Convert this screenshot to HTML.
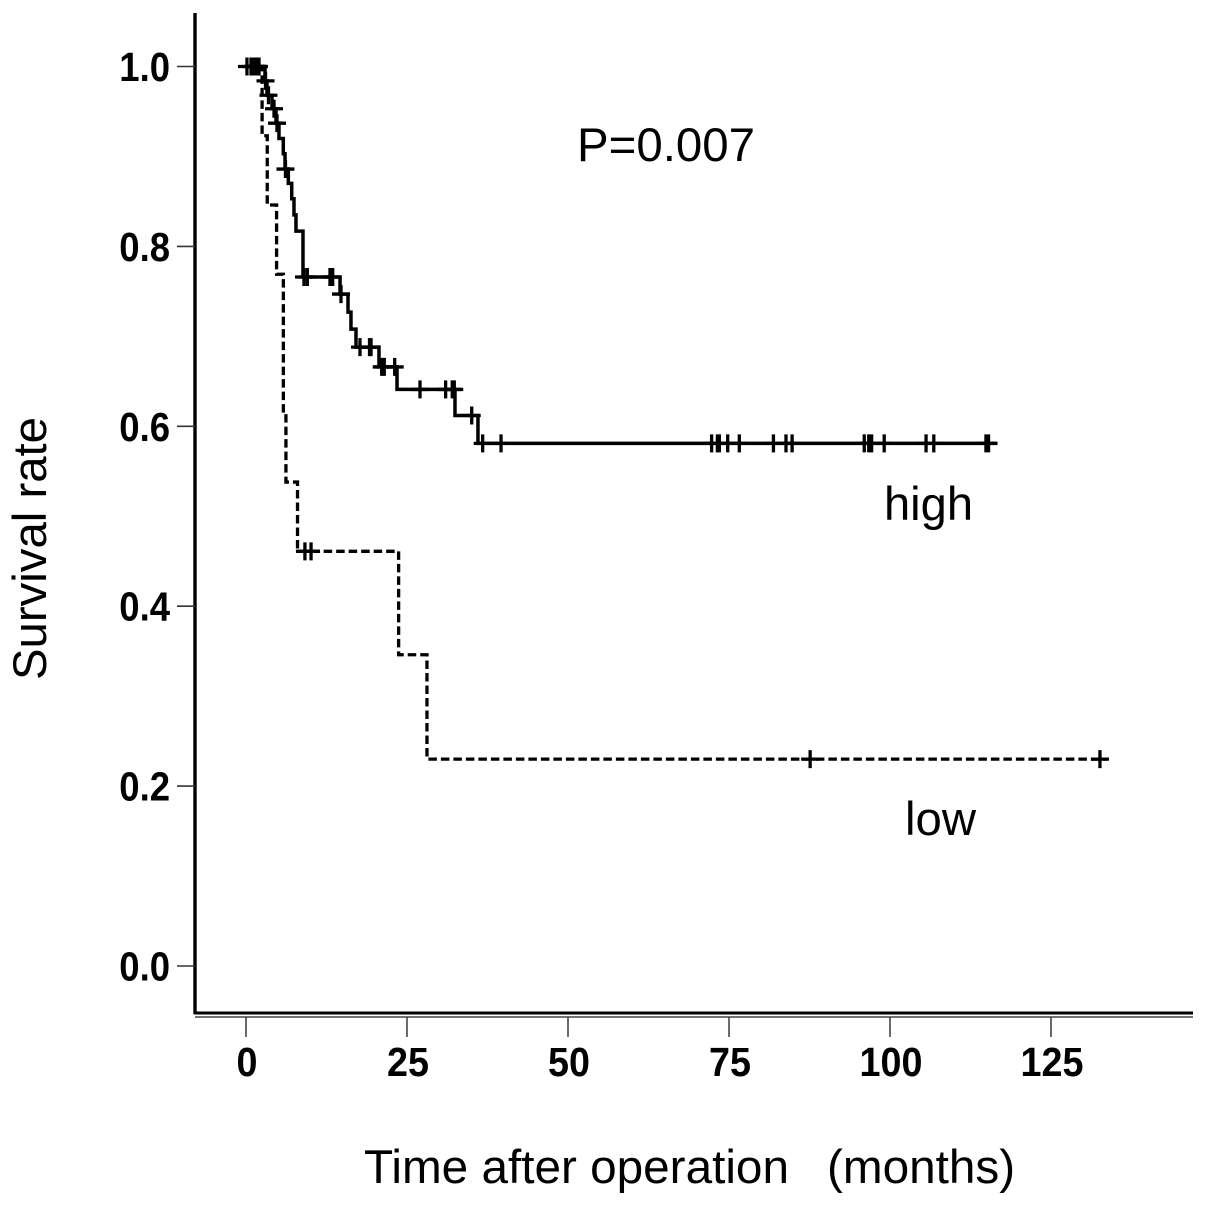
<!DOCTYPE html>
<html lang="en">
<head>
<meta charset="utf-8">
<title>Survival curve</title>
<style>
  html, body { margin: 0; padding: 0; background: #fff; }
  svg { display: block; }
  text { fill: #000; font-family: "Liberation Sans", sans-serif; }
  .tick-label { font-weight: bold; font-size: 41px; }
  .title-text { font-size: 47px; }
</style>
</head>
<body>
<svg id="chart" xmlns="http://www.w3.org/2000/svg" width="1205" height="1205" viewBox="0 0 1205 1205">
  <rect width="1205" height="1205" fill="#fff"/>
  <g id="plot"></g>
  <line x1="195" y1="13" x2="195" y2="1014" stroke="#000" stroke-width="3.4"/>
  <line x1="194" y1="1013" x2="1193" y2="1013" stroke="#000" stroke-width="3"/>
  <line x1="195" y1="1017" x2="1193" y2="1017" stroke="#444" stroke-width="1.5"/>
  <text class="title-text" x="364" y="1183" style="font-size:47.7px">Time after operation <tspan x="827">(months)</tspan></text>
  <text class="title-text" transform="translate(46,680) rotate(-90)" x="0" y="0" textLength="263" lengthAdjust="spacingAndGlyphs">Survival rate</text>
  <text class="title-text" x="577" y="161" textLength="178" lengthAdjust="spacingAndGlyphs">P=0.007</text>
  <text class="title-text" x="884" y="520" textLength="89" lengthAdjust="spacingAndGlyphs">high</text>
  <text class="title-text" x="905" y="835" textLength="71" lengthAdjust="spacingAndGlyphs">low</text>
</svg>
<script>
const xTickValues = [0, 25, 50, 75, 100, 125];
const xTickLabels = ["0", "25", "50", "75", "100", "125"];
const yTickValues = [0, 0.2, 0.4, 0.6, 0.8, 1.0];
const yTickLabels = ["0.0", "0.2", "0.4", "0.6", "0.8", "1.0"];

const highStepTimes = [2.95, 3.26, 4.04, 4.66, 5.12, 5.79, 6.06, 6.57, 7.1, 7.45, 7.76, 8.85, 14.6, 15.84, 16.3, 17.08, 20.65, 23.45, 32.45, 36.02];
const highStepSurvival = [0.984, 0.968, 0.953, 0.937, 0.920, 0.903, 0.886, 0.870, 0.853, 0.835, 0.817, 0.766, 0.747, 0.727, 0.708, 0.688, 0.666, 0.641, 0.612, 0.581];
const highEndTime = 116.6;
const highCensorTimes = [0.15, 0.78, 1.09, 1.4, 1.71, 2.02, 3.03, 3.49, 4.35, 4.81, 6.13, 9.0, 9.52, 13.04, 13.46, 14.75, 17.7, 19.18, 19.41, 21.07, 21.47, 23.09, 27.02, 31.0, 32.03, 32.34, 35.05, 36.75, 39.6, 72.3, 73.2, 73.5, 74.8, 76.6, 81.9, 83.85, 84.8, 96, 96.7, 97.15, 99.1, 105.6, 106.8, 114.9, 115.3];

const lowStepTimes = [2.5, 3.3, 4.75, 5.8, 6.2, 8.0, 23.7, 28.1];
const lowStepSurvival = [0.923, 0.846, 0.769, 0.615, 0.538, 0.461, 0.346, 0.230];
const lowEndTime = 133.7;
const lowCensorTimes = [9.15, 10.1, 87.6, 132.6];

const SVG_NS = "http://www.w3.org/2000/svg";
const plot = document.getElementById("plot");
const chart = document.getElementById("chart");

function xScale(t) { return 246 + 6.44 * t; }
function yScale(s) { return 966 - 899.5 * s; }

function make(tag, parent) {
  const el = document.createElementNS(SVG_NS, tag);
  parent.appendChild(el);
  return el;
}

function survivalAt(t, times, values) {
  let s = 1;
  for (let i = 0; i < times.length; i++) {
    if (t >= times[i]) s = values[i];
  }
  return s;
}

function stepPath(times, values, endTime) {
  let d = "M" + xScale(0) + " " + yScale(1);
  for (let i = 0; i < times.length; i++) {
    d += "H" + xScale(times[i]) + "V" + yScale(values[i]);
  }
  return d + "H" + xScale(endTime);
}

function drawCross(t, s, group) {
  const x = xScale(t);
  const y = yScale(s);
  const d = "M" + (x - 9) + " " + y + "H" + (x + 9) + "M" + x + " " + (y - 9) + "V" + (y + 9);
  const cross = make("path", group);
  cross.setAttribute("d", d);
  cross.setAttribute("fill", "none");
  cross.setAttribute("stroke", "#000");
  cross.setAttribute("stroke-width", "3.3");
  return cross;
}

const lowPath = make("path", plot);


lowPath.setAttribute("d", stepPath(lowStepTimes, lowStepSurvival, lowEndTime));
lowPath.setAttribute("fill", "none");
lowPath.setAttribute("stroke", "#000");
lowPath.setAttribute("stroke-width", "3.3");
lowPath.setAttribute("stroke-dasharray", "8.5 4");

const highPath = make("path", plot);


highPath.setAttribute("d", stepPath(highStepTimes, highStepSurvival, highEndTime));
highPath.setAttribute("fill", "none");
highPath.setAttribute("stroke", "#000");
highPath.setAttribute("stroke-width", "3.5");

highCensorTimes.forEach(function (t) {
  const mark = drawCross(t, survivalAt(t, highStepTimes, highStepSurvival), plot);
  
  
});

lowCensorTimes.forEach(function (t) {
  const mark = drawCross(t, survivalAt(t, lowStepTimes, lowStepSurvival), plot);
  
  
});

xTickValues.forEach(function (v, i) {
  const x = xScale(v);
  const tick = make("line", chart);
  
  
  tick.setAttribute("x1", x);
  tick.setAttribute("x2", x);
  tick.setAttribute("y1", 1017);
  tick.setAttribute("y2", 1037);
  tick.setAttribute("stroke", "#444");
  tick.setAttribute("stroke-width", "1.6");
  const label = make("text", chart);
  
  
  label.setAttribute("class", "tick-label");
  label.setAttribute("text-anchor", "middle");
  label.setAttribute("transform", "translate(" + (x + 1) + ",1076) scale(0.92,1)");
  label.textContent = xTickLabels[i];
});

yTickValues.forEach(function (v, i) {
  const y = yScale(v);
  const tick = make("line", chart);
  
  
  tick.setAttribute("x1", 177);
  tick.setAttribute("x2", 195);
  tick.setAttribute("y1", y);
  tick.setAttribute("y2", y);
  tick.setAttribute("stroke", "#333");
  tick.setAttribute("stroke-width", "1.6");
  const label = make("text", chart);
  
  
  label.setAttribute("class", "tick-label");
  label.setAttribute("text-anchor", "end");
  label.setAttribute("transform", "translate(170," + (y + 14.5) + ") scale(0.89,1)");
  label.textContent = yTickLabels[i];
});
</script>
</body>
</html>
